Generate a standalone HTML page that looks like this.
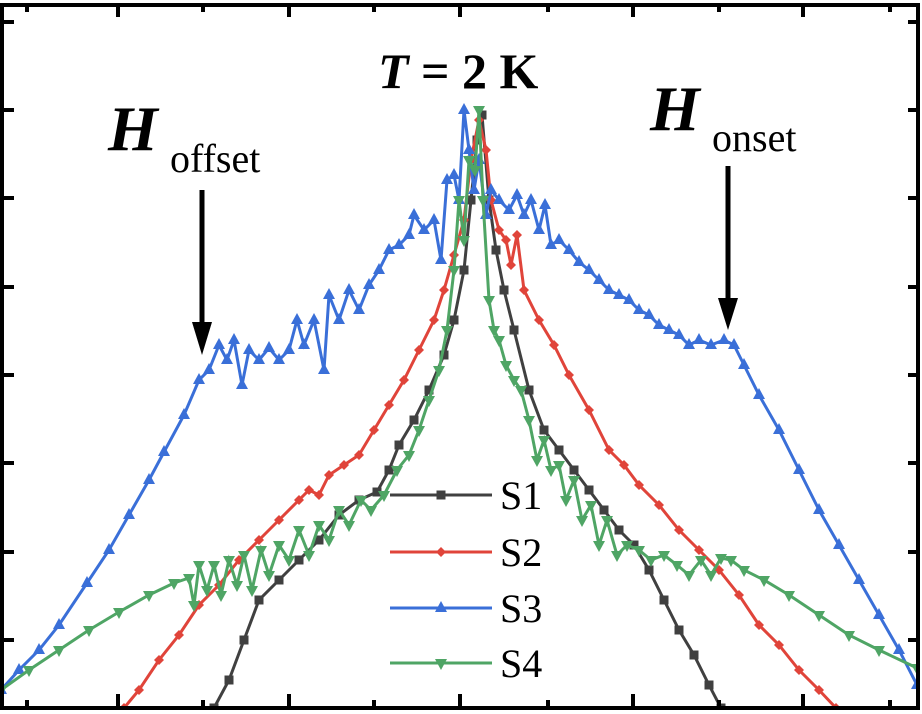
<!DOCTYPE html>
<html><head><meta charset="utf-8"><style>
html,body{margin:0;padding:0;background:#fff;}
svg{display:block;}
text{font-family:"Liberation Serif",serif;}
</style></head><body>
<svg id="chart" width="922" height="714" viewBox="0 0 922 714" xmlns="http://www.w3.org/2000/svg">
<rect x="0" y="0" width="922" height="714" fill="#fff"/>
<g id="series"></g>
<g id="axes"></g>
<text x="378" y="88" font-size="50" font-weight="bold"><tspan font-style="italic">T</tspan> = 2 K</text>
<text x="108" y="150" font-size="64" font-weight="bold" font-style="italic">H</text>
<text x="170" y="172" font-size="40">offset</text>
<text x="650" y="130" font-size="64" font-weight="bold" font-style="italic">H</text>
<text x="712" y="151" font-size="40">onset</text>
<g>
<line x1="202" y1="190" x2="202" y2="330" stroke="#000" stroke-width="5"/>
<polygon points="192,322 212,322 202,355" fill="#000"/>
</g>
<g>
<line x1="728" y1="166" x2="728" y2="305" stroke="#000" stroke-width="5"/>
<polygon points="718,298 738,298 728,330" fill="#000"/>
</g>
<g id="legend"></g>
</svg>
<script>
const s1X=[-24.6,-23.1,-21.6,-20.1,-18.1,-16.1,-14.1,-12.1,-10.1,-8.3,-7.1,-6.1,-4.6,-3.1,-1.6,-0.6,0.4,1.1,1.7,2.2,2.9,3.6,4.4,5.4,6.9,8.4,9.9,11.4,12.9,14.4,15.9,17.4,18.9,20.4,21.9,23.4,24.9,26.1];
const s1Y=[0,2.8,6.8,10.8,12.8,14.8,16.8,19.3,20.8,21.6,23.8,26.3,28.8,31.8,35.3,38.8,43.8,50.8,56.8,59.3,50.8,45.8,41.8,37.8,31.8,27.8,25.8,23.8,21.8,19.8,17.8,16.3,13.8,10.8,7.8,5.3,2.3,0];
const s2X=[-33.6,-32.1,-30.1,-28.1,-26.1,-24.1,-22.1,-20.1,-18.1,-16.1,-15.1,-14.1,-13.1,-11.6,-10.1,-8.6,-7.1,-5.6,-4.1,-2.6,-1.6,-0.6,0.4,1.1,1.9,2.6,3.1,3.9,4.6,5.1,5.7,6.4,7.9,9.4,10.9,12.9,14.9,16.4,17.9,19.9,21.9,23.9,25.9,27.9,29.9,31.9,33.9,35.9,37.6];
const s2Y=[0,1.8,4.8,7.3,10.3,12.3,14.8,16.8,18.8,20.8,21.8,21.3,23.3,24.3,25.3,27.8,30.3,32.8,35.8,38.8,41.8,45.3,48.8,54.8,58.8,55.8,50.8,47.8,46.8,44.3,47.3,41.8,38.8,36.3,33.3,29.8,25.8,24.3,22.3,20.3,17.8,15.8,13.8,11.3,8.3,6.3,3.8,1.8,0];
const s3X=[-45.9,-44.1,-42.1,-40.1,-37.3,-35.1,-33.1,-31.1,-29.6,-27.6,-26.1,-25.1,-24.1,-23.3,-22.6,-21.8,-21.1,-20.1,-19.1,-18.1,-17.1,-16.3,-15.6,-14.6,-13.6,-13.1,-12.1,-11.1,-10.1,-9.1,-8.1,-7.1,-6.1,-5.1,-4.6,-3.6,-2.6,-1.9,-1.3,-0.6,-0.1,0.4,0.9,1.4,1.9,2.6,3.1,3.9,4.9,5.7,6.4,7.1,7.9,8.5,9.1,9.9,10.9,11.9,12.9,13.9,14.9,15.9,16.9,17.9,18.9,19.9,20.9,21.9,22.9,23.9,25.1,26.4,27.4,28.4,29.9,31.9,33.9,35.9,37.9,39.9,41.9,43.9,45.7];
const s3Y=[1.8,3.8,5.8,8.3,12.5,15.8,19.3,22.8,25.6,29.3,32.8,33.8,36.3,34.8,36.8,32.3,35.8,34.8,36.0,34.8,35.8,38.8,36.3,38.8,33.8,41.3,38.8,41.8,39.8,42.3,43.8,45.8,46.3,47.3,49.3,47.8,48.8,44.8,52.8,53.3,50.8,59.8,55.8,51.8,54.8,49.3,51.8,50.8,49.8,51.3,49.3,50.8,47.8,50.3,46.3,46.8,45.8,44.6,43.8,42.8,41.8,41.3,40.8,39.8,39.3,38.3,37.8,37.3,36.3,36.8,36.3,36.8,36.3,34.3,31.3,27.8,23.8,19.8,16.3,12.8,9.3,5.8,2.3];
const s4X=[-45.9,-43.1,-40.1,-37.1,-34.1,-31.1,-28.6,-27.1,-26.6,-26.1,-25.3,-24.6,-23.9,-23.1,-22.3,-21.6,-20.8,-19.9,-19.1,-18.1,-17.1,-16.1,-15.1,-14.1,-13.1,-12.1,-11.1,-9.9,-8.9,-7.6,-6.3,-5.1,-4.1,-3.1,-2.1,-1.3,-0.6,-0.1,0.4,0.9,1.5,1.9,2.3,2.9,3.4,3.9,4.6,5.4,6.1,6.9,7.7,8.4,9.1,9.9,10.6,11.4,12.2,13.1,13.9,14.7,15.7,16.7,17.9,19.1,20.4,21.7,22.9,24.1,25.1,26.1,27.1,28.4,30.4,32.9,35.9,38.9,41.9,45.7];
const s4Y=[1.8,3.8,5.8,7.8,9.6,11.3,12.5,13.0,10.3,14.3,11.8,14.3,11.3,14.8,12.3,15.3,11.8,15.8,13.3,16.3,14.8,17.8,15.3,18.3,16.8,19.8,18.3,20.8,19.8,21.3,23.8,25.3,27.8,30.8,33.8,37.8,43.8,50.8,46.8,54.8,53.8,59.8,50.8,40.8,37.8,36.8,34.3,32.8,31.8,28.8,24.8,26.8,23.8,24.3,20.8,22.8,18.8,20.3,16.3,18.8,15.3,16.3,15.8,14.8,15.3,14.3,13.3,14.8,13.3,15.0,14.8,13.8,12.8,11.3,9.3,7.3,5.8,4.0];
const seriesNames=["S1","S2","S3","S4"];
const colors=["#404040","#e0443a","#3a6fd8","#4fa565"];
const markers=["square","diamond","up","down"];
const xMajor=[-34.2,-17.1,0,17.3,34.3];
const xMinor=[-43.3,-25.7,-8.6,8.8,25.9,43.0];
const yTicks=[6.8,15.6,24.5,33.3,42.1,51.0,59.8,68.6];

const X0=2,X1=918,Y0=5,Y1=708;
const xMin=-45.8,xMax=45.8,yMin=0,yMax=70.3;
function xs(v){return X0+(v-xMin)/(xMax-xMin)*(X1-X0);}
function ys(v){return Y1-(v-yMin)/(yMax-yMin)*(Y1-Y0);}
const NS="http://www.w3.org/2000/svg";
function mk(tag,attrs,parent){const e=document.createElementNS(NS,tag);for(const k in attrs)e.setAttribute(k,attrs[k]);parent.appendChild(e);return e;}
function marker(type,x,y,c,parent){
  let e;
  if(type==="square"){e=mk("rect",{x:x-4.5,y:y-4.5,width:9,height:9,fill:c},parent);}
  else if(type==="diamond"){e=mk("polygon",{points:`${x},${y-5} ${x+5},${y} ${x},${y+5} ${x-5},${y}`,fill:c},parent);}
  else if(type==="up"){e=mk("polygon",{points:`${x},${y-7} ${x+6},${y+4} ${x-6},${y+4}`,fill:c},parent);}
  else {e=mk("polygon",{points:`${x-6},${y-4} ${x+6},${y-4} ${x},${y+7}`,fill:c},parent);}
  return e;
}
const sg=document.getElementById("series");
const clip=mk("clipPath",{id:"clp"},sg);
mk("rect",{x:X0,y:Y0,width:X1-X0,height:Y1-Y0},clip);
const allX=[s1X,s2X,s3X,s4X],allY=[s1Y,s2Y,s3Y,s4Y];
for(let s=0;s<4;s++){
  const g=mk("g",{"clip-path":"url(#clp)"},sg);
  
  
  const pts=allX[s].map((v,i)=>xs(v).toFixed(1)+","+ys(allY[s][i]).toFixed(1)).join(" ");
  const pl=mk("polyline",{points:pts,fill:"none",stroke:colors[s],"stroke-width":3},g);
  
  
  for(let i=0;i<allX[s].length;i++){
    const m=marker(markers[s],xs(allX[s][i]),ys(allY[s][i]),colors[s],g);
    
    
  }
}
const ag=document.getElementById("axes");
const fr=mk("rect",{x:X0,y:Y0,width:X1-X0,height:Y1-Y0,fill:"none",stroke:"#000","stroke-width":4},ag);


for(const v of xMajor){
  const t=mk("line",{x1:xs(v),x2:xs(v),y1:Y1,y2:Y1-14,stroke:"#000","stroke-width":4},ag);
  
  
  const t2=mk("line",{x1:xs(v),x2:xs(v),y1:Y0,y2:Y0+12,stroke:"#000","stroke-width":4},ag);
  
  
}
for(const v of xMinor){
  const t=mk("line",{x1:xs(v),x2:xs(v),y1:Y1,y2:Y1-8,stroke:"#000","stroke-width":4},ag);
  
  
  const t2=mk("line",{x1:xs(v),x2:xs(v),y1:Y0,y2:Y0+7,stroke:"#000","stroke-width":4},ag);
  
  
}
for(const v of yTicks){
  const t=mk("line",{x1:X0,x2:X0+12,y1:ys(v),y2:ys(v),stroke:"#000","stroke-width":4},ag);
  
  
  const t2=mk("line",{x1:X1,x2:X1-10,y1:ys(v),y2:ys(v),stroke:"#000","stroke-width":4},ag);
  
  
}
const lg=document.getElementById("legend");
const legY=[495,552,608,663];
for(let s=0;s<4;s++){
  const g=mk("g",{},lg);
  
  
  mk("line",{x1:390,x2:492,y1:legY[s],y2:legY[s],stroke:colors[s],"stroke-width":3},g);
  marker(markers[s],441,legY[s],colors[s],g);
  const t=mk("text",{x:500,y:legY[s]+14,"font-size":40,fill:"#000"},g);
  t.textContent=seriesNames[s];
}
</script>
</body></html>
